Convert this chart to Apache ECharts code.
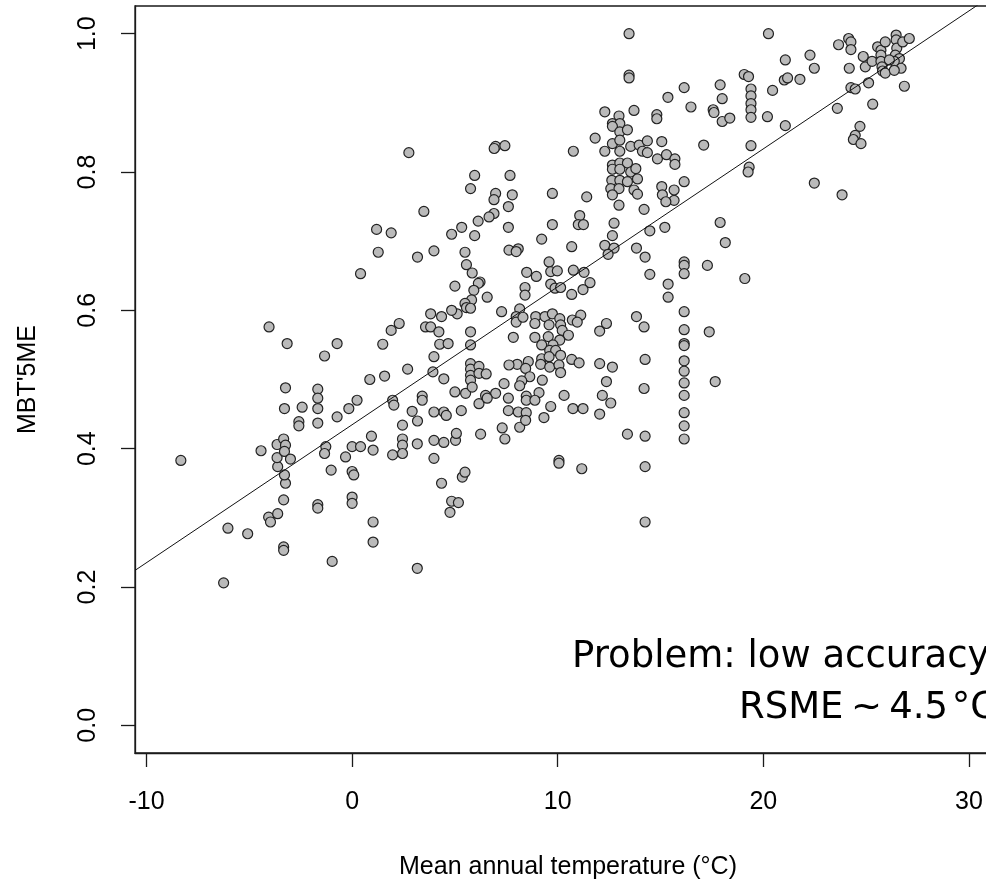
<!DOCTYPE html>
<html>
<head>
<meta charset="utf-8">
<script src="https://cdn.jsdelivr.net/npm/echarts@6/dist/echarts.min.js"></script>
<style>
html,body{margin:0;padding:0;background:#fff;}
#chart{width:986px;height:879px;}
</style>
</head>
<body>
<div id="chart"></div>
<script>
// Mean annual temperature (°C) of each sample
const meanAnnualTemp = [
  20.25,17.9,18.0,17.56,17.6,18.0,18.37,17.1,19.07,19.28,19.4,19.4,19.4,19.4,19.4,19.4,19.31,19.26,20.45,20.2,
  21.07,21.02,21.18,21.07,21.78,22.27,22.48,22.48,23.6,23.83,23.66,24.15,24.26,24.26,24.18,24.26,24.47,24.7,24.47,24.38,
  24.75,24.86,24.96,25.12,25.32,25.29,25.56,25.72,25.93,25.72,25.72,25.77,25.8,25.93,26.46,26.46,26.49,26.78,27.1,26.42,
  26.62,26.37,26.7,26.37,26.86,26.13,
  13.47,13.47,13.47,16.15,15.36,16.48,12.29,12.98,13.71,14.82,14.82,12.66,13.02,12.66,13.02,13.39,11.82,10.76,12.29,12.66,
  13.02,13.02,13.55,13.96,14.12,14.36,14.36,15.06,14.85,15.29,15.7,15.7,16.15,12.66,13.02,13.39,12.66,13.02,13.55,13.8,
  12.63,13.02,13.39,13.88,12.58,12.98,13.71,12.66,13.88,12.98,14.2,15.06,15.66,15.09,15.66,15.26,6.98,6.91,7.43,5.96,
  7.68,5.76,6.98,6.9,7.79,7.6,9.74,11.41,
  2.76,3.49,1.19,1.9,1.27,3.18,0.41,-4.04,-3.16,-1.34,-0.73,1.49,1.9,2.29,3.57,3.82,
  -8.33,-6.25,-6.04,-5.08,-4.43,-4.06,-3.97,-3.62,-3.33,-3.33,-3.33,-3.24,-3.29,-3.62,-3.65,-3.65,-3.33,-3.24,-3.29,-3.0,
  -3.24,-3.29,-2.43,-2.59,-2.59,-1.67,-1.67,-1.67,-1.67,-1.67,-1.67,-0.97,-0.73,-0.16,0.24,0.86,1.58,2.7,-1.28,-1.34,
  -1.02,-0.32,0,0.41,1.02,0.94,0,0.08,0,0,1.02,1.02,3.17,1.97,2.03,2.92,3.41,3.41,3.18,2.45,
  2.45,2.45,2.45,1.97,3.17,
  6.9,6.66,6.13,5.33,4.84,5.96,7.6,3.98,5.49,7.63,8.08,7.98,9.22,9.74,11.07,11.0,11.25,10.68,12.74,12.66,
  12.29,12.74,12.45,14.48,15.21,13.83,14.25,14.48,16.15,16.15,16.15,15.37,15.37,
  5.56,5.84,6.22,6.14,5.0,5.92,6.57,5.81,5.49,5.56,5.76,5.11,4.84,4.35,3.82,4.22,4.26,4.67,5.76,5.76,
  3.98,3.93,4.46,5.0,5.52,5.76,5.76,5.76,5.76,5.84,6.17,6.17,6.52,6.49,6.17,6.98,6.57,4.46,4.58,5.31,3.98,
  7.27,8.15,7.98,7.98,8.31,7.84,8.41,8.41,8.49,8.96,9.58,9.66,9.98,9.66,9.87,10.14,10.76,11.28,11.57,11.23,10.68,
  8.93,9.38,9.74,10.1,8.89,9.58,10.14,10.71,11.12,10.95,10.22,10.52,8.89,9.54,10.1,9.22,9.77,9.61,9.9,9.22,
  9.58,10.14,9.17,9.61,10.06,10.14,8.57,8.03,7.63,8.44,8.64,8.25,8.15,9.25,7.39,9.09,8.47,8.47,8.89,7.6,
  7.6,8.08,8.47,9.33,9.66,10.31,10.74,11.23,12.04,12.17,12.58,12.37,12.04,12.66,10.68,11.04,12.04,12.37,13.83,14.2,
  14.25,14.2,
  16.15,16.15,16.15,16.15,16.15,16.15,16.15,16.15,16.15,
  3.98,4.46,5.03,5.07,3.98,4.35,5.36,5.49,4.84,5.17,4.76,6.25,7.3,7.43,8.15,8.44,10.06,10.06,11.17,13.39,
  14.25,14.25,14.25,16.15,16.15,
  17.9,18.15,17.28,19.1,17.37,17.66
];
// MBT'5ME of each sample (same order)
const mbt5me = [
  1.0,0.926,0.906,0.890,0.886,0.873,0.878,0.839,0.941,0.938,0.920,0.910,0.899,0.890,0.879,0.838,0.807,0.800,0.918,0.880,
  0.962,0.933,0.936,0.867,0.934,0.969,0.950,0.784,0.892,0.767,0.984,0.993,0.988,0.977,0.950,0.922,0.920,0.866,0.853,0.847,
  0.841,0.967,0.952,0.929,0.898,0.960,0.981,0.976,0.988,0.969,0.960,0.952,0.946,0.943,0.998,0.991,0.979,0.988,0.993,0.969,
  0.964,0.960,0.950,0.947,0.924,0.962,
  1.0,0.94,0.936,0.922,0.908,0.894,0.887,0.881,0.889,0.883,0.877,0.870,0.870,0.866,0.858,0.861,0.849,0.830,0.830,0.841,
  0.846,0.830,0.837,0.839,0.830,0.845,0.828,0.844,0.819,0.825,0.819,0.811,0.786,0.810,0.813,0.813,0.804,0.804,0.800,0.805,
  0.788,0.788,0.786,0.790,0.776,0.776,0.774,0.767,0.768,0.752,0.746,0.779,0.774,0.767,0.759,0.757,0.837,0.834,0.838,0.795,
  0.795,0.776,0.769,0.760,0.767,0.750,0.769,0.764,
  0.828,0.743,0.717,0.712,0.684,0.677,0.653,0.576,0.552,0.534,0.552,0.551,0.571,0.581,0.576,0.576,
  0.383,0.206,0.285,0.277,0.397,0.301,0.294,0.306,0.258,0.253,0.326,0.350,0.362,0.374,0.387,0.406,0.414,0.405,0.396,0.385,
  0.488,0.458,0.460,0.439,0.433,0.486,0.473,0.458,0.437,0.319,0.314,0.237,0.446,0.458,0.470,0.500,0.505,0.515,0.403,0.393,
  0.369,0.388,0.403,0.403,0.398,0.418,0.367,0.362,0.330,0.321,0.294,0.265,0.227,0.470,0.463,0.454,0.476,0.470,0.440,0.434,
  0.414,0.405,0.393,0.391,0.407,
  0.740,0.735,0.729,0.720,0.710,0.708,0.720,0.686,0.684,0.687,0.689,0.685,0.703,0.724,0.737,0.724,0.724,0.692,0.726,0.708,
  0.694,0.690,0.681,0.715,0.720,0.690,0.677,0.652,0.670,0.665,0.653,0.638,0.619,
  0.666,0.654,0.641,0.639,0.635,0.629,0.619,0.615,0.610,0.604,0.603,0.595,0.600,0.591,0.595,0.569,0.551,0.552,0.569,0.550,
  0.533,0.511,0.501,0.482,0.480,0.523,0.515,0.506,0.499,0.489,0.519,0.509,0.508,0.477,0.465,0.480,0.473,0.453,0.448,0.455,0.453,
  0.598,0.602,0.591,0.583,0.590,0.561,0.633,0.622,0.655,0.649,0.670,0.656,0.657,0.638,0.632,0.633,0.658,0.655,0.640,0.630,0.623,
  0.591,0.591,0.595,0.588,0.581,0.579,0.579,0.586,0.593,0.583,0.571,0.564,0.561,0.562,0.557,0.550,0.550,0.542,0.542,0.530,
  0.533,0.535,0.522,0.518,0.521,0.510,0.526,0.522,0.521,0.516,0.504,0.498,0.491,0.499,0.494,0.481,0.476,0.470,0.470,0.473,
  0.455,0.453,0.452,0.445,0.461,0.477,0.458,0.458,0.450,0.477,0.466,0.497,0.523,0.518,0.529,0.524,0.570,0.581,0.591,0.576,
  0.529,0.487,
  0.598,0.572,0.552,0.549,0.527,0.512,0.495,0.477,0.452,
  0.412,0.409,0.412,0.422,0.386,0.350,0.359,0.366,0.324,0.322,0.308,0.421,0.430,0.414,0.431,0.441,0.383,0.379,0.371,0.421,
  0.418,0.374,0.294,0.433,0.414,
  0.727,0.698,0.665,0.646,0.569,0.497
];
// Fitted regression line, read at the two ends of the x range
const fitTemp = [-10.56, 31.56];
const fitMbt = [0.224, 1.064];
// Axis ticks
const xTicks = [-10, 0, 10, 20, 30];
const yTicks = [0, 0.2, 0.4, 0.6, 0.8, 1.0];
const xRange = [-10.56, 31.56];
const yRange = [-0.04, 1.04];
const noteLine1 = 'Problem: low accuracy';
const noteLine2 = 'RSME\u2009~\u20094.5\u200A\u00B0C';

const points = meanAnnualTemp.map((t, i) => [t, mbt5me[i]]);
const fitLine = fitTemp.map((t, i) => [t, fitMbt[i]]);

const chart = echarts.init(document.getElementById('chart'), null, {renderer: 'canvas'});
const axisFont = {fontFamily: '"Liberation Sans", Arial, sans-serif', fontSize: 25, color: '#000'};
const noteFont = '"DejaVu Sans", sans-serif';
chart.setOption({
  animation: false,
  backgroundColor: '#fff',
  grid: {
    left: 135, top: 6, width: 866, height: 747,
    outerBoundsMode: 'none', containLabel: false,
    show: true, borderColor: '#1a1a1a', borderWidth: 1.3, backgroundColor: 'transparent'
  },
  xAxis: {
    type: 'value', min: xRange[0], max: xRange[1],
    name: 'Mean annual temperature (\u00B0C)', nameLocation: 'middle', nameGap: 102,
    nameTextStyle: axisFont,
    splitLine: {show: false},
    axisLine: {show: true, onZero: false, lineStyle: {color: '#1a1a1a', width: 1.3}},
    axisTick: {show: true, length: 14, lineStyle: {color: '#1a1a1a', width: 1.3}, customValues: xTicks},
    axisLabel: Object.assign({margin: 37, customValues: xTicks, formatter: v => String(v)}, axisFont)
  },
  yAxis: {
    type: 'value', min: yRange[0], max: yRange[1],
    name: "MBT'5ME", nameLocation: 'middle', nameGap: 94, nameRotate: 90,
    nameTextStyle: axisFont,
    splitLine: {show: false},
    axisLine: {show: true, onZero: false, lineStyle: {color: '#1a1a1a', width: 1.3}},
    axisTick: {show: true, length: 14, lineStyle: {color: '#1a1a1a', width: 1.3}, customValues: yTicks},
    axisLabel: Object.assign({margin: 34, rotate: 90, customValues: yTicks, formatter: v => v.toFixed(1)}, axisFont)
  },
  series: [
    {
      type: 'scatter', data: points, symbol: 'circle', symbolSize: 10,
      itemStyle: {color: '#bababa', borderColor: '#222', borderWidth: 1.2, opacity: 1},
      silent: true
    },
    {
      type: 'line', data: fitLine, symbol: 'none', clip: true, silent: true,
      lineStyle: {color: '#111', width: 1}
    }
  ],
  graphic: [
    {type: 'text', left: 572, top: 639, silent: true,
     style: {text: noteLine1, fontFamily: noteFont, fontSize: 37, fill: '#000'}},
    {type: 'text', left: 739, top: 690, silent: true,
     style: {text: noteLine2, fontFamily: noteFont, fontSize: 37, fill: '#000'}}
  ]
});
</script>
</body>
</html>
